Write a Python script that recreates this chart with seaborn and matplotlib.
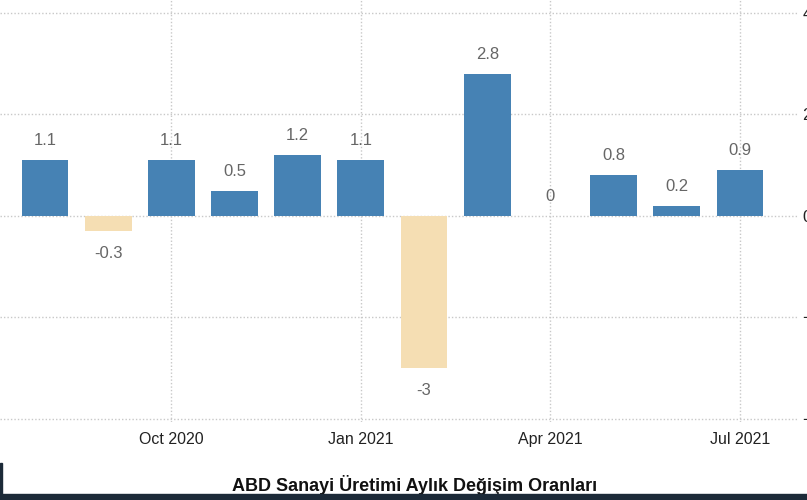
import matplotlib
matplotlib.use("Agg")
import matplotlib.pyplot as plt
import seaborn as sns
import pandas as pd

# Aylık veriler (Ağu 2020 - Tem 2021)
months = ["Aug 2020", "Sep 2020", "Oct 2020", "Nov 2020", "Dec 2020", "Jan 2021",
          "Feb 2021", "Mar 2021", "Apr 2021", "May 2021", "Jun 2021", "Jul 2021"]
values = [1.1, -0.3, 1.1, 0.5, 1.2, 1.1, -3, 2.8, 0, 0.8, 0.2, 0.9]
value_labels = ["1.1", "-0.3", "1.1", "0.5", "1.2", "1.1", "-3", "2.8", "0", "0.8", "0.2", "0.9"]
tick_months = ["Oct 2020", "Jan 2021", "Apr 2021", "Jul 2021"]
y_ticks = [-4, -2, 0, 2, 4]
title = "ABD Sanayi Üretimi Aylık Değişim Oranları"

df = pd.DataFrame({"month": months, "value": values})
df["sign"] = ["neg" if v < 0 else "pos" for v in values]

sns.set_style("white")
narrow = ["Liberation Sans", "DejaVu Sans"]

fig = plt.figure(figsize=(8.07, 5.0), dpi=100)
ax = fig.add_axes([0, 0.156, 798 / 807, 0.844])

sns.barplot(data=df, x="month", y="value", hue="sign",
            palette={"pos": "#4682b4", "neg": "#f5deb3"}, saturation=1,
            dodge=False, width=0.74, legend=False, linewidth=0, ax=ax)

ax.set_xlim(-0.712, 11.92)
ax.set_ylim(-4.06, 4.256)

# değer etiketleri
for i, (v, lab) in enumerate(zip(values, value_labels)):
    off = 14 if v >= 0 else -16
    ax.annotate(lab, (i, v), xytext=(0, off), textcoords="offset points",
                ha="center", va="center", fontsize=12, color="#666666",
                family=narrow)

ax.set_xticks([months.index(m) for m in tick_months])
ax.set_xticklabels(tick_months)
ax.set_yticks(y_ticks)
ax.yaxis.tick_right()
ax.tick_params(axis="y", length=0, pad=3, labelsize=12, labelcolor="#222222")
ax.tick_params(axis="x", length=5, color="#cccccc", pad=2, labelsize=11.5,
               labelcolor="#222222")
for lab in ax.get_xticklabels() + ax.get_yticklabels():
    lab.set_family(narrow)

ax.grid(True, linestyle=(0, (1, 1.5)), color="#c8c8c8", linewidth=1)
ax.set_axisbelow(True)
for s in ax.spines.values():
    s.set_visible(False)
ax.set_xlabel("")
ax.set_ylabel("")

fig.text(0.514, 0.03, title, ha="center", va="center", fontsize=13,
         fontweight="bold", family=["Liberation Sans", "DejaVu Sans"], color="#111111")

# alt koyu şerit ve sol ince çizgi
fig.add_artist(plt.Rectangle((0, 0), 1, 6 / 500, transform=fig.transFigure,
                             color="#1c2a38", zorder=5))
fig.add_artist(plt.Rectangle((0, 6 / 500), 2 / 807, 31 / 500, transform=fig.transFigure,
                             color="#1c2a38", zorder=5))

fig.savefig("out.png", dpi=100)
